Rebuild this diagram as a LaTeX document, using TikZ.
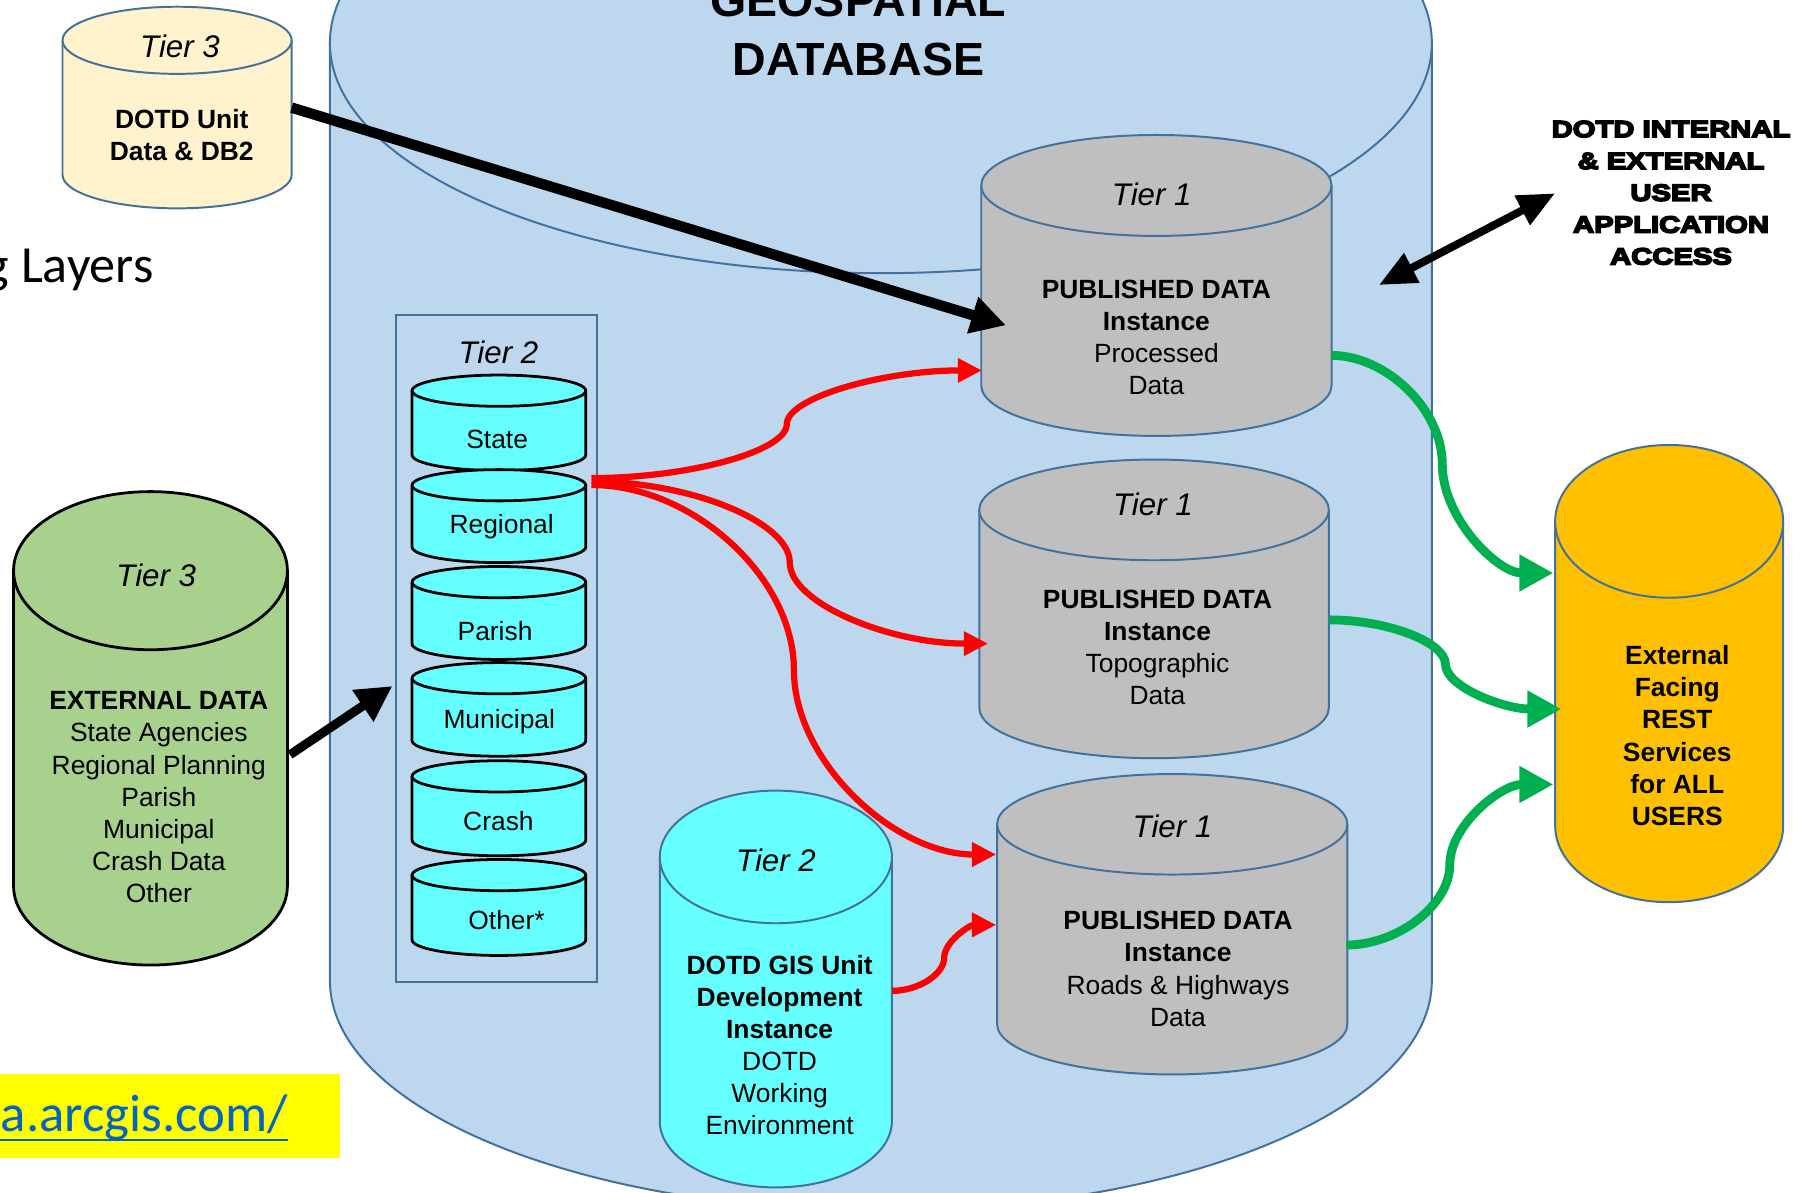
\documentclass[tikz,border=0pt]{standalone}
\usepackage{fontspec}
\setmainfont{Liberation Sans}
\newfontfamily\calibfont{Carlito}
\newfontfamily\heavyfont[FakeStretch=1.25,FakeBold=7]{Liberation Sans Bold}
\usetikzlibrary{arrows.meta,calc,fit}
\definecolor{bgblue}{HTML}{BDD7EE}
\definecolor{bordblue}{HTML}{41719C}
\definecolor{tiergrey}{HTML}{BFBFBF}
\definecolor{creamf}{HTML}{FFF2CC}
\definecolor{greenf}{HTML}{A9D18E}
\definecolor{cyanf}{HTML}{66FFFF}
\definecolor{orangef}{HTML}{FFC000}
\definecolor{arrred}{HTML}{FF0000}
\definecolor{arrgreen}{HTML}{00B050}
\definecolor{hiyellow}{HTML}{FFFF00}
\definecolor{linkblue}{HTML}{0563C1}
\tikzset{
  bline/.style={draw=bordblue, line width=0.85pt},
  kline/.style={draw=black, line width=1.2pt},
  bodytxt/.style={font=\fontsize{11.4}{13.88}\selectfont, align=center, inner sep=0pt},
  tierlbl/.style={font=\fontsize{13.5}{16}\selectfont\itshape, inner sep=0pt},
  redarrow/.style={draw=arrred, line width=2.7pt, -{Triangle[length=10.5pt,width=10pt]}},
  greenarrow/.style={draw=arrgreen, line width=3.8pt, -{Triangle[length=14.7pt,width=15pt]}},
  blackarrow/.style={draw=black, line width=4.5pt, -{Triangle[length=15pt,width=15.5pt]}},
  dblarrow/.style={draw=black, line width=3.4pt, {Triangle[length=16pt,width=13.6pt]}-{Triangle[length=16pt,width=13.6pt]}},
}
% name, cx, ytop, ybot, rx, ry, style
\newcommand\cylnd[7]{%
  \fill[#7,draw=none] (#2-#5,#3) rectangle (#2+#5,#4);
  \fill[#7,draw=none] (#2,#4) ellipse [x radius=#5, y radius=#6];
  \draw[#7,fill=none] (#2-#5,#3) -- (#2-#5,#4) arc [start angle=180, end angle=0, x radius=#5, y radius=#6] -- (#2+#5,#3);
  \draw[#7] (#2,#3) ellipse [x radius=#5, y radius=#6];
  \node[inner sep=0pt, fit={(#2-#5,#3-#6) (#2+#5,#4+#6)}] (#1) {};
}
\newcommand\curveconn[3]{%
  \draw[#3] let \p1=(#1), \p2=(#2) in (\p1) .. controls ({(3*\x1+\x2)/4},\y1) and ({(\x1+\x2)/2},{(3*\y1+\y2)/4}) .. ({(\x1+\x2)/2},{(\y1+\y2)/2}) .. controls ({(\x1+\x2)/2},{(\y1+3*\y2)/4}) and ({(\x1+3*\x2)/4},\y2) .. (\p2);
}
\begin{document}
\begin{tikzpicture}[x=0.5pt,y=-0.5pt]
\useasboundingbox (0,0) rectangle (1568,1030);
\clip (0,0) rectangle (1568,1030);
\fill[white] (0,0) rectangle (1568,1030);

% left-side fragments
\node[anchor=base east, font=\calibfont\fontsize{22.5}{26}\selectfont, inner sep=0pt] (layers) at (133,244) {g Layers};
\node[fill=hiyellow, inner sep=0pt, fit={(-5,928) (293.7,1000)}] (hilite) {};
\node[anchor=base east, font=\calibfont\fontsize{22.8}{26}\selectfont, text=linkblue, inner sep=0pt] (link) at (249,977.7) {a.arcgis.com/};
\draw[linkblue, line width=1pt] ($(link.base west)+(0,7.3)$) -- ($(link.base east)+(0,7.3)$);

% big geospatial database cylinder
\cylnd{geodb}{761}{37}{847}{476}{199}{fill=bgblue,bline}
\node[anchor=base, font=\fontsize{20.1}{25}\selectfont\bfseries, inner sep=0pt] (geo1) at (741.5,14.4) {GEOSPATIAL};
\node[anchor=base, font=\fontsize{20.1}{25}\selectfont\bfseries, inner sep=0pt] (geo2) at (741.5,64.8) {DATABASE};

% Tier 2 box with stack
\node[bline, inner sep=0pt, fit={(342.4,271.9) (515.8,848.7)}] (t2box) {};
\node[tierlbl] (t2boxlbl) at (430.6,304.7) {Tier 2};
\cylnd{cstate}{431}{337.5}{393}{75}{13.5}{fill=cyanf,kline}
\cylnd{creg}{431}{419.2}{472.5}{75}{13.5}{fill=cyanf,kline}
\cylnd{cpar}{431}{502.9}{556.2}{75}{13.5}{fill=cyanf,kline}
\cylnd{cmun}{431}{585.9}{639.8}{75}{13.5}{fill=cyanf,kline}
\cylnd{ccra}{431}{670.7}{725.8}{75}{13.5}{fill=cyanf,kline}
\cylnd{coth}{431}{756}{811.9}{75}{13.5}{fill=cyanf,kline}
\node[bodytxt] (lstate) at (429.5,379.5) {State};
\node[bodytxt] (lreg) at (433.4,455) {Regional};
\node[bodytxt] (lpar) at (427.7,545) {Parish};
\node[bodytxt] (lmun) at (431.3,623.7) {Municipal};
\node[bodytxt] (lcra) at (430.6,709.7) {Crash};
\node[bodytxt] (loth) at (437.6,794.5) {Other*};

% other cylinders
\cylnd{cream}{153}{34.8}{151}{99}{29}{fill=creamf,bline}
\cylnd{extdata}{130}{493}{765.4}{118.3}{68.3}{fill=greenf,kline}
\cylnd{tia}{999}{160.2}{333}{151.3}{43.6}{fill=tiergrey,bline}
\cylnd{tib}{997}{440.5}{611.5}{151}{43.5}{fill=tiergrey,bline}
\cylnd{tic}{1012.7}{712.1}{884.8}{151.3}{43.4}{fill=tiergrey,bline}
\cylnd{gis}{670.25}{740.3}{968.5}{100.25}{57.3}{fill=cyanf,bline}
\cylnd{rest}{1442}{450.4}{713.4}{98.5}{66}{fill=orangef,bline}

% texts in cylinders
\node[tierlbl] (creamlbl) at (155.5,40.3) {Tier 3};
\node[bodytxt] (creamtxt) at (157,116.5) {\textbf{DOTD Unit}\\\textbf{Data \& DB2}};
\node[tierlbl] (extlbl) at (135,497) {Tier 3};
\node[bodytxt] (exttxt) at (137.2,688.7) {\textbf{EXTERNAL DATA}\\State Agencies\\Regional Planning\\Parish\\Municipal\\Crash Data\\Other};
\node[tierlbl] (tialbl) at (995,168) {Tier 1};
\node[bodytxt] (tiatxt) at (999,291.5) {\textbf{PUBLISHED DATA}\\\textbf{Instance}\\Processed\\Data};
\node[tierlbl] (tiblbl) at (996,436) {Tier 1};
\node[bodytxt] (tibtxt) at (1000,559.5) {\textbf{PUBLISHED DATA}\\\textbf{Instance}\\Topographic\\Data};
\node[tierlbl] (ticlbl) at (1012.9,714.2) {Tier 1};
\node[bodytxt] (tictxt) at (1017.7,837) {\textbf{PUBLISHED DATA}\\\textbf{Instance}\\Roads \& Highways\\Data};
\node[tierlbl] (gislbl) at (670.4,743) {Tier 2};
\node[bodytxt] (gistxt) at (673.5,902.8) {\textbf{DOTD GIS Unit}\\\textbf{Development}\\\textbf{Instance}\\DOTD\\Working\\Environment};
\node[bodytxt] (resttxt) at (1449,635.5) {\textbf{External}\\\textbf{Facing}\\\textbf{REST}\\\textbf{Services}\\\textbf{for ALL}\\\textbf{USERS}};
\node[font=\heavyfont\fontsize{10.1}{13.75}\selectfont, align=center, inner sep=0pt] (access) at (1443.6,166.5) {DOTD INTERNAL\\\& EXTERNAL\\USER\\APPLICATION\\ACCESS};

% connector ports
\coordinate (blkA) at (252,93);
\coordinate (blkB) at (869,281);
\coordinate (grnA) at (250.5,652);
\coordinate (grnB) at (339,592.7);
\coordinate (dblA) at (1191.3,246.2);
\coordinate (dblB) at (1343.4,167);
\coordinate (r1a) at (511,413);
\coordinate (r1b) at (848.4,320);
\coordinate (r2a) at (511,416);
\coordinate (r2b) at (853.6,556);
\coordinate (r3a) at (511,419);
\coordinate (r3b) at (860.7,738.2);
\coordinate (r4a) at (770.6,856);
\coordinate (r4b) at (860.7,799);
\coordinate (g1a) at (1150,307);
\coordinate (g1b) at (1342,495);
\coordinate (g2a) at (1148.6,535.5);
\coordinate (g2b) at (1349,612.5);
\coordinate (g3a) at (1163,816.4);
\coordinate (g3b) at (1342,677.7);

% connectors
\draw[blackarrow] (blkA) -- (blkB);
\draw[blackarrow, line width=3.9pt, -{Triangle[length=15.4pt,width=15.5pt]}] (grnA) -- (grnB);
\draw[dblarrow] (dblA) -- (dblB);
\curveconn{r1a}{r1b}{redarrow}
\curveconn{r2a}{r2b}{redarrow}
\curveconn{r3a}{r3b}{redarrow}
\curveconn{r4a}{r4b}{redarrow}
\curveconn{g1a}{g1b}{greenarrow}
\curveconn{g2a}{g2b}{greenarrow}
\curveconn{g3a}{g3b}{greenarrow}
\end{tikzpicture}
\end{document}
